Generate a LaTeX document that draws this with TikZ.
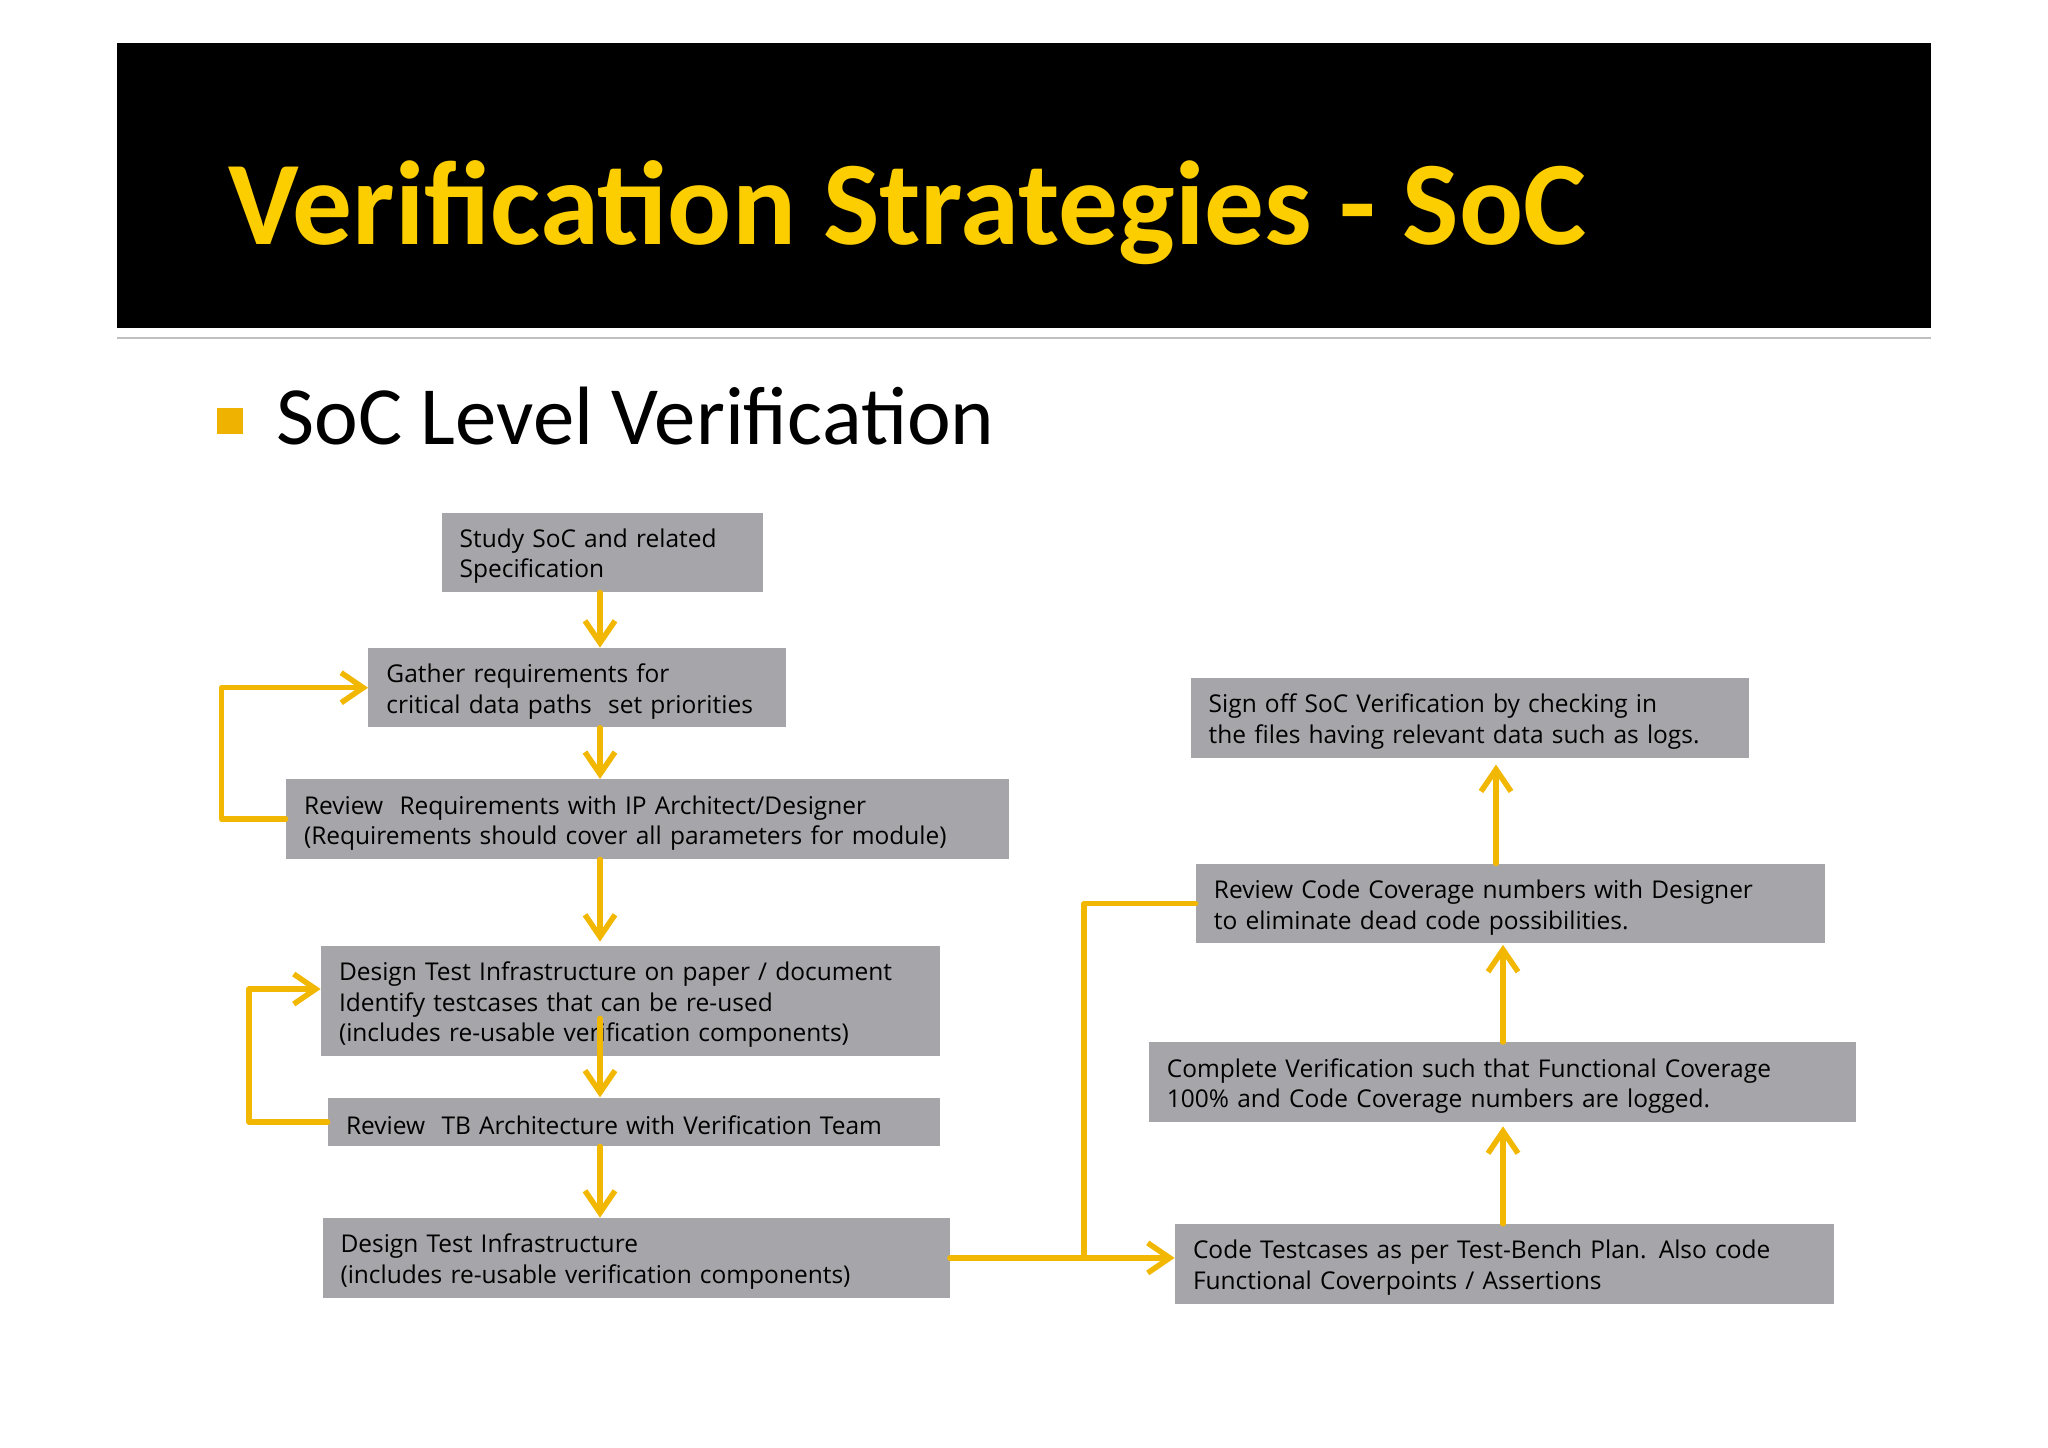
\documentclass[tikz,border=0pt]{standalone}
\usepackage{fontspec}
\setmainfont{Open Sans}
\newfontfamily\calib{Carlito}
\usetikzlibrary{arrows.meta,calc}
\definecolor{boxgray}{RGB}{166,166,170}
\definecolor{arrowyel}{RGB}{242,183,0}
\definecolor{titleyel}{RGB}{252,206,0}
\definecolor{bulletor}{RGB}{240,178,0}
\begin{document}
\begin{tikzpicture}[x=0.5pt,y=-0.5pt,
  box/.style={fill=boxgray, draw=none, align=left, inner xsep=9pt, inner ysep=0pt,
    font=\fontsize{12.25}{15.25}\selectfont, anchor=center,
    execute at begin node={\rule{0pt}{13pt}}},
  arr/.style={draw=arrowyel, line width=2.75pt, line cap=round, line join=round,
    -{Straight Barb[length=11pt,width=15pt]}},
  conn/.style={draw=arrowyel, line width=2.75pt, line cap=round, line join=round}]
\useasboundingbox (0,0) rectangle (2048,1447);
\fill[white] (0,0) rectangle (2048,1447);
% header
\fill[black] (117,43) rectangle (1931,328);
\draw[black!25, line width=1.2pt] (117,338) -- (1931,338);
\node[anchor=base west, inner sep=0, text=titleyel,
  font=\calib\bfseries\fontsize{59.7}{70}\selectfont] (title) at (228,244) {Verification Strategies - SoC};
\node[fill=bulletor, minimum size=13pt, inner sep=0] (bullet) at (230,421) {};
\node[anchor=base west, inner sep=0, font=\calib\fontsize{41.4}{48}\selectfont] (sub) at (276,444) {SoC Level Verification};
% left column
\node[box, text width=142.85pt, minimum height=39.65pt] (study) at (602.5,552.4) {Study SoC and related\\Specification};
\node[box, text width=190.95pt, minimum height=39.65pt] (gather) at (577.4,687.7) {Gather requirements for\\critical data paths\ \ set priorities};
\node[box, text width=343.5pt, minimum height=39.85pt] (revreq) at (647.5,819.2) {Review\ \ Requirements with IP Architect/Designer\\(Requirements should cover all parameters for module)};
\node[box, text width=291.5pt, minimum height=55pt] (despaper) at (630.5,1001) {Design Test Infrastructure on paper / document\\Identify testcases that can be re-used\\(includes re-usable verification components)};
\node[box, text width=288pt, minimum height=24.15pt] (revtb) at (634,1121.9) {Review\ \ TB Architecture with Verification Team};
\node[box, text width=295.5pt, minimum height=39.85pt] (desinfra) at (636,1257.9) {Design Test Infrastructure\\(includes re-usable verification components)};
% right column
\node[box, text width=261.1pt, minimum height=40.15pt] (signoff) at (1469.8,718) {Sign off SoC Verification by checking in\\the files having relevant data such as logs.};
\node[box, text width=296.5pt, minimum height=39.75pt] (revcode) at (1510.4,903.7) {Review Code Coverage numbers with Designer\\to eliminate dead code possibilities.};
\node[box, text width=335.3pt, minimum height=39.8pt] (complete) at (1502.2,1082.2) {Complete Verification such that Functional Coverage\\100\% and Code Coverage numbers are logged.};
\node[box, text width=311.5pt, minimum height=39.75pt] (codetest) at (1504.5,1264) {Code Testcases as per Test-Bench Plan. Also code\\Functional Coverpoints / Assertions};
% connectors
\coordinate (cL) at (600,0);
\coordinate (jx) at (1084,0);
\coordinate (cR) at (1503,0);
\coordinate (cR2) at (1496,0);
\draw[arr] (study.south -| cL) -- (gather.north -| cL);
\draw[arr] (gather.south -| cL) -- (revreq.north -| cL);
\draw[arr] (revreq.south -| cL) -- ($(despaper.north -| cL)+(0,-4)$);
\draw[arr] ($(despaper.south -| cL)+(0,-38)$) -- (revtb.north -| cL);
\draw[arr] (revtb.south -| cL) -- (desinfra.north -| cL);
\draw[arr] (revreq.west) -- ++(-64,0) |- (gather.west);
\draw[arr] (revtb.west) -- ++(-78.5,0) |- ($(despaper.west)+(0,-12)$);
\draw[arr] (desinfra.east) -- (desinfra.east -| codetest.west);
\draw[conn] (revcode.west) -| (jx |- desinfra.east);
\draw[arr] (codetest.north -| cR) -- ($(complete.south -| cR)+(0,4)$);
\draw[arr] (complete.north -| cR) -- ($(revcode.south -| cR)+(0,1)$);
\draw[arr] (revcode.north -| cR2) -- ($(signoff.south -| cR2)+(0,6)$);
\end{tikzpicture}
\end{document}
